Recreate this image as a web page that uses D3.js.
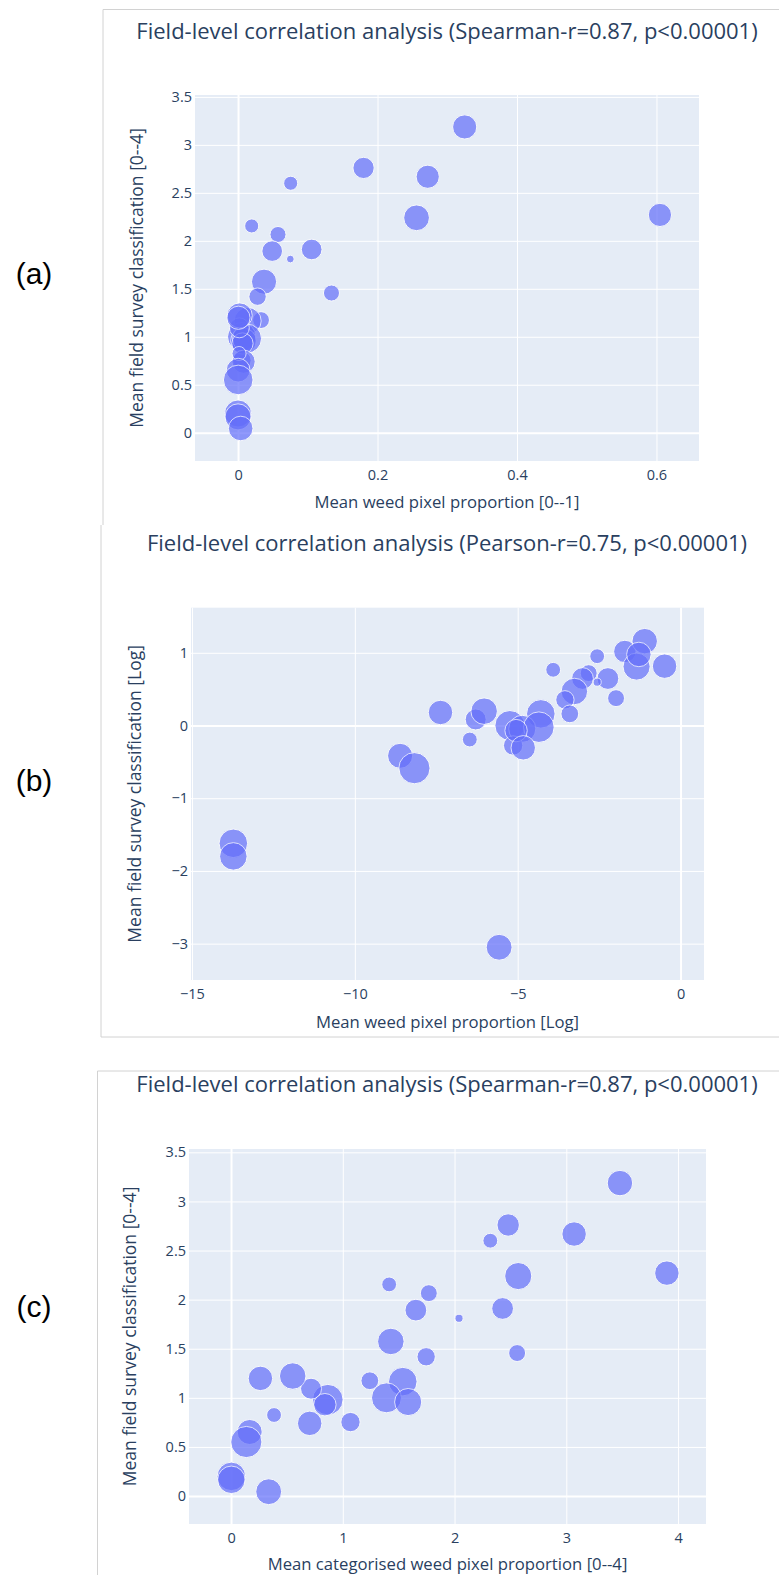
<!DOCTYPE html>
<html>
<head>
<meta charset="utf-8">
<script src="https://cdn.jsdelivr.net/npm/d3@7"></script>
<style>
  body { margin: 0; background: #fff; }
  svg { display: block; }
</style>
</head>
<body>
<div id="chart"></div>
<script>
// Mean field survey classification [0--4], one value per field
const fieldScore = [2.76, 2.60, 2.24, 1.91, 1.81, 1.456, 2.155, 2.066, 1.893, 1.574,
    1.418, 1.174, 1.165, 1.0, 0.957, 0.753, 0.981, 0.93, 1.093, 0.740,
    1.222, 1.198, 0.825, 0.652, 0.55, 0.20, 0.165, 0.044, 3.187, 2.668, 2.27]

// Mean weed pixel proportion [0--1]  (panel a)
const weedProportion = [0.180, 0.0755, 0.256, 0.1056, 0.075, 0.134, 0.0196, 0.0573, 0.049, 0.0373,
    0.028, 0.033, 0.0138, 0.0053, 0.0078, 0.0057, 0.0129, 0.0064, 0.0019, 0.0080,
    0.0024, 0.0006, 0.0015, 0.00018, 0.00028, 0.000001, 0.000001, 0.0038, 0.325, 0.272, 0.605]

// Log values (panel b)
const logWeedProportion = [-1.71, -2.56, -1.35, -2.23, -2.56, -1.98, -3.91, -2.82, -3.01, -3.26,
    -3.55, -3.40, -4.29, -5.24, -4.86, -5.14, -4.35, -5.05, -6.29, -4.83,
    -6.03, -7.37, -6.47, -8.61, -8.17, -13.73, -13.73, -5.57, -1.10, -1.28, -0.49]
const logFieldScore = [1.018, 0.953, 0.81, 0.646, 0.596, 0.376, 0.766, 0.72, 0.646, 0.468,
    0.353, 0.16, 0.16, 0.0, -0.046, -0.275, -0.023, -0.07, 0.083, -0.307,
    0.197, 0.179, -0.193, -0.417, -0.587, -1.62, -1.80, -3.05, 1.16, 0.977, 0.816]

// Mean categorised weed pixel proportion [0--4]  (panel c)
const categorisedProportion = [2.48, 2.32, 2.57, 2.43, 2.04, 2.56, 1.415, 1.77, 1.654, 1.43,
    1.746, 1.242, 1.537, 1.391, 1.585, 1.069, 0.866, 0.84, 0.716, 0.704,
    0.552, 0.263, 0.385, 0.167, 0.137, 0.003, 0.003, 0.337, 3.48, 3.07, 3.90]

// Bubble size (area units)
const bubbleSize = [121, 53, 177, 114, 16, 69, 53, 69, 114, 169,
    81, 76, 196, 216, 177, 90, 225, 121, 106, 144,
    169, 144, 53, 151, 234, 196, 182, 161, 156, 144, 144]

const ticksA = { x: [0, 0.2, 0.4, 0.6], y: [0, 0.5, 1, 1.5, 2, 2.5, 3, 3.5] }
const ticksB = { x: [-15, -10, -5, 0], y: [-3, -2, -1, 0, 1] }
const ticksC = { x: [0, 1, 2, 3, 4], y: [0, 0.5, 1, 1.5, 2, 2.5, 3, 3.5] }

const titleSpearman = "Field-level correlation analysis (Spearman-r=0.87, p<0.00001)"
const titlePearson = "Field-level correlation analysis (Pearson-r=0.75, p<0.00001)"

const width = 779
const height = 1575
const textColor = "#2a3f5f"
const font = "'Open Sans', sans-serif"

const svg = d3.select("#chart")
    .append("svg")
    .attr("width", width)
    .attr("height", height)
    .attr("viewBox", `0 0 ${width} ${height}`)

// Frame lines around each pasted figure
const frameColor = "#d2d2d2"
const frames = [
    [[103, 525], [103, 9.5], [779, 9.5]],
    [[101, 525], [101, 1037], [779, 1037]],
    [[97.5, 1575], [97.5, 1071], [779, 1071]]
]
frames.forEach(pts => {
    svg.append("path")
        .attr("d", d3.line()(pts))
        .attr("fill", "none")
        .attr("stroke", frameColor)
        .attr("stroke-width", 1)
})

const panels = [
    {
        label: "(a)", labelY: 273,
        title: titleSpearman, titleY: 31,
        xTitle: "Mean weed pixel proportion [0--1]", xTitleY: 502,
        yTitle: "Mean field survey classification [0--4]", yTitleX: 137,
        box: { left: 195, right: 699, top: 95, bottom: 461 },
        xRange: [-0.0617, 0.661], yRange: [-0.295, 3.52],
        ticks: ticksA, xs: weedProportion, ys: fieldScore, rMax: 14.8
    },
    {
        label: "(b)", labelY: 780,
        title: titlePearson, titleY: 543,
        xTitle: "Mean weed pixel proportion [Log]", xTitleY: 1022,
        yTitle: "Mean field survey classification [Log]", yTitleX: 135,
        box: { left: 191, right: 704, top: 607.7, bottom: 980 },
        xRange: [-15.03, 0.72], yRange: [-3.5, 1.62],
        ticks: ticksB, xs: logWeedProportion, ys: logFieldScore, rMax: 15.6
    },
    {
        label: "(c)", labelY: 1306,
        title: titleSpearman, titleY: 1084,
        xTitle: "Mean categorised weed pixel proportion [0--4]", xTitleY: 1564,
        yTitle: "Mean field survey classification [0--4]", yTitleX: 130,
        box: { left: 189, right: 706, top: 1149, bottom: 1524 },
        xRange: [-0.376, 4.25], yRange: [-0.285, 3.534],
        ticks: ticksC, xs: categorisedProportion, ys: fieldScore, rMax: 15.6
    }
]

panels.forEach(drawPanel)

function drawPanel(p) {
    const b = p.box
    const x = d3.scaleLinear().domain(p.xRange).range([b.left, b.right])
    const y = d3.scaleLinear().domain(p.yRange).range([b.bottom, b.top])
    const r = d3.scaleSqrt().domain([0, d3.max(bubbleSize)]).range([0, p.rMax])
    const fmt = d3.format("")

    const g = svg.append("g")

    // Plot background
    g.append("rect")
        .attr("x", b.left).attr("y", b.top)
        .attr("width", b.right - b.left).attr("height", b.bottom - b.top)
        .attr("fill", "#e5ecf6")

    // Grid + tick labels
    const xAxis = g.append("g")
        .attr("transform", translate(0, b.bottom))
        .call(d3.axisBottom(x).tickValues(p.ticks.x).tickFormat(fmt)
            .tickSize(-(b.bottom - b.top)).tickPadding(9))
    const yAxis = g.append("g")
        .attr("transform", translate(b.left, 0))
        .call(d3.axisLeft(y).tickValues(p.ticks.y).tickFormat(fmt)
            .tickSize(-(b.right - b.left)).tickPadding(3))

    ;[xAxis, yAxis].forEach(ax => {
        ax.select(".domain").remove()
        ax.selectAll(".tick line")
            .attr("stroke", "#fff")
            .attr("stroke-width", d => d === 0 ? 2 : 1)
        ax.selectAll(".tick text")
            .attr("fill", textColor)
            .attr("font-family", font)
            .attr("font-size", 14.5)
    })
    yAxis.selectAll(".tick text").attr("x", -3)

    // Bubbles
    const pts = p.xs.map((v, i) => ({ x: v, y: p.ys[i], s: bubbleSize[i] }))
    g.append("g")
        .selectAll("circle")
        .data(pts)
        .join("circle")
        .attr("cx", d => x(d.x))
        .attr("cy", d => y(d.y))
        .attr("r", d => r(d.s))
        .attr("fill", "#636efa")
        .attr("stroke", "#fff")
        .attr("stroke-width", 1)
        .attr("opacity", 0.7)

    // Titles
    g.append("text")
        .attr("x", 447).attr("y", p.titleY)
        .attr("dy", "0.35em")
        .attr("text-anchor", "middle")
        .attr("font-family", font).attr("font-size", 22)
        .attr("fill", textColor)
        .text(p.title)

    g.append("text")
        .attr("x", (b.left + b.right) / 2).attr("y", p.xTitleY)
        .attr("dy", "0.35em")
        .attr("text-anchor", "middle")
        .attr("font-family", font).attr("font-size", 16.7)
        .attr("fill", textColor)
        .text(p.xTitle)

    g.append("text")
        .attr("transform", translate(p.yTitleX, (b.top + b.bottom) / 2) + " rotate(-90)")
        .attr("dy", "0.35em")
        .attr("text-anchor", "middle")
        .attr("font-family", font).attr("font-size", 17.5)
        .attr("fill", textColor)
        .text(p.yTitle)

    // Sub-figure label
    svg.append("text")
        .attr("x", 34).attr("y", p.labelY)
        .attr("dy", "0.35em")
        .attr("text-anchor", "middle")
        .attr("font-family", "'Liberation Sans', Arial, sans-serif")
        .attr("font-size", 30)
        .attr("fill", "#000")
        .text(p.label)
}

function translate(x, y) {
    return `translate(${x},${y})`
}
</script>
</body>
</html>
